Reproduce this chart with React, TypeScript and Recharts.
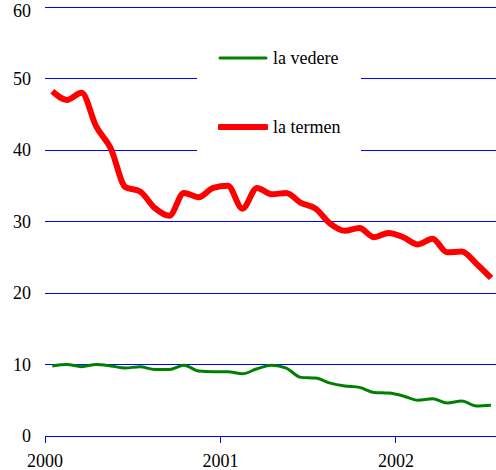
import { LineChart, Line, XAxis, YAxis, CartesianGrid, Legend } from 'recharts'

// monthly observations, Jan 2000 .. Jul 2002
const MONTHS = [
  '2000-01', '2000-02', '2000-03', '2000-04', '2000-05', '2000-06',
  '2000-07', '2000-08', '2000-09', '2000-10', '2000-11', '2000-12',
  '2001-01', '2001-02', '2001-03', '2001-04', '2001-05', '2001-06',
  '2001-07', '2001-08', '2001-09', '2001-10', '2001-11', '2001-12',
  '2002-01', '2002-02', '2002-03', '2002-04', '2002-05', '2002-06',
  '2002-07',
]

const LA_VEDERE = [
  9.8, 10.0, 9.7, 10.0, 9.8, 9.5, 9.7, 9.3, 9.3, 9.9, 9.1, 9.0,
  9.0, 8.7, 9.4, 9.9, 9.5, 8.2, 8.1, 7.4, 7.0, 6.8, 6.1, 6.0,
  5.6, 5.0, 5.2, 4.6, 4.9, 4.2, 4.3,
]

const LA_TERMEN = [
  48.2, 47.0, 48.0, 43.3, 40.2, 34.8, 34.2, 31.9, 30.8, 34.0, 33.4, 34.7,
  35.0, 31.8, 34.7, 33.8, 34.0, 32.6, 31.8, 29.7, 28.7, 29.1, 27.8, 28.4,
  27.8, 26.8, 27.6, 25.7, 25.8, 24.1, 22.1,
]

const YEAR_TICKS = [2000, 2001, 2002]
const Y_TICKS = [0, 10, 20, 30, 40, 50, 60]

const SERIES = [
  { key: 'vedere', label: 'la vedere', color: '#008000', width: 3 },
  { key: 'termen', label: 'la termen', color: '#ff0000', width: 6 },
]

// place each month at its middle on a year scale
const data = MONTHS.map((m, i) => {
  const [y, mo] = m.split('-').map(Number)
  return { t: y + (mo - 0.5) / 12, vedere: LA_VEDERE[i], termen: LA_TERMEN[i] }
})

const FONT = "'Times New Roman', Times, 'Liberation Serif', serif"
const GRID = '#0000ff'

function BoxLegend() {
  return (
    <div style={{ background: 'white', width: 164, height: 145, position: 'relative', fontFamily: FONT, fontSize: 18, color: '#000' }}>
      {SERIES.map((s, i) => (
        <div key={s.key} style={{ position: 'absolute', left: 21, top: 27 + i * 69, display: 'flex', alignItems: 'center', height: 22 }}>
          <svg width={50} height={8} style={{ display: 'block' }}>
            <line x1={2} y1={4} x2={48} y2={4} stroke={s.color} strokeWidth={s.width} strokeLinecap="round" />
          </svg>
          <span style={{ marginLeft: 5, whiteSpace: 'nowrap' }}>{s.label}</span>
        </div>
      ))}
    </div>
  )
}

export default function App() {
  return (
    <div style={{ position: 'absolute', left: 0, top: 0, background: 'white' }}>
      <style>{'.recharts-cartesian-grid line, .recharts-cartesian-axis-line, .recharts-cartesian-axis-tick-line { shape-rendering: crispEdges; }'}</style>
      <LineChart width={496} height={470} data={data} margin={{ top: 7, right: 0, bottom: 0, left: 0 }}>
        <CartesianGrid horizontal vertical={false} stroke={GRID} strokeWidth={1} />
        <XAxis
          dataKey="t"
          type="number"
          domain={[2000, 2002.57]}
          ticks={YEAR_TICKS}
          allowDataOverflow
          height={34}
          stroke={GRID}
          tickSize={7}
          tickMargin={11}
          tick={{ fill: '#000', fontSize: 18, fontFamily: FONT }}
        />
        <YAxis
          domain={[0, 60]}
          ticks={Y_TICKS}
          width={45}
          axisLine={false}
          tickLine={false}
          tickSize={0}
          tickMargin={14}
          tick={{ fill: '#000', fontSize: 18, fontFamily: FONT }}
        />
        <Legend
          layout="horizontal"
          verticalAlign="middle"
          align="center"
          content={<BoxLegend />}
          wrapperStyle={{ left: 197, top: 20, width: 164, height: 145 }}
        />
        {SERIES.map(s => (
          <Line
            key={s.key}
            dataKey={s.key}
            name={s.label}
            type="monotone"
            stroke={s.color}
            strokeWidth={s.width}
            dot={false}
            isAnimationActive={false}
          />
        ))}
      </LineChart>
    </div>
  )
}
